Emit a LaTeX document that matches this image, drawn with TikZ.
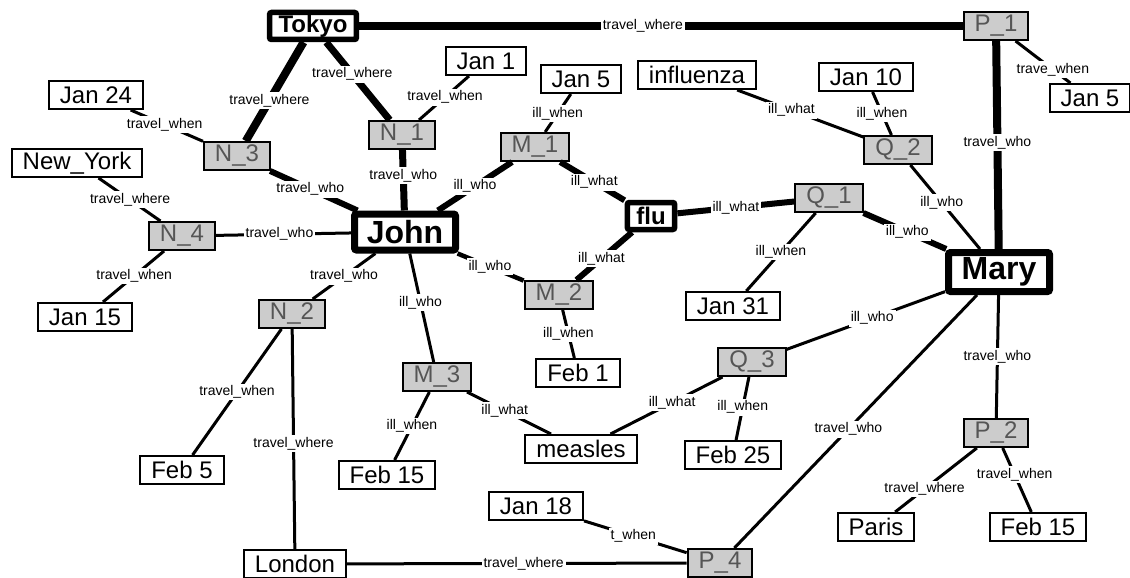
\documentclass[tikz,border=0pt]{standalone}
\usepackage{fontspec}
\setmainfont{Liberation Sans}
\usetikzlibrary{positioning}
\definecolor{eventgray}{HTML}{CCCCCC}
\definecolor{eventtext}{HTML}{555555}

\begin{document}
\begin{tikzpicture}[x=1pt, y=-1pt,
        val/.style={draw, line width=2pt, fill=white, font=\fontsize{24}{24}\selectfont, inner xsep=11pt, inner ysep=0pt, minimum height=28pt},
        evt/.style={val, fill=eventgray, text=eventtext},
        hub/.style={draw, line width=5.5pt, fill=white, rounded corners=2pt, font=\bfseries\fontsize{24}{24}\selectfont, inner xsep=9pt, inner ysep=0pt, minimum height=27pt},
        bighub/.style={hub, line width=7pt, font=\bfseries\fontsize{32}{32}\selectfont, minimum height=36pt, minimum width=101pt},
        lbl/.style={fill=white, inner sep=2pt, font=\fontsize{14}{14}\selectfont},
        link/.style={line width=3pt},
        heavy/.style={line width=7pt}
    ]
        \useasboundingbox (0,0) rectangle (1130,578);

        % people, places and illnesses
        \node (tokyo) [hub] at (313,26) {Tokyo};
        \node (john) [bighub] at (405,232) {John};
        \node (mary) [bighub, minimum height=39pt] at (999,272) {Mary};
        \node (flu) [hub] at (651,216) {flu};

        % event nodes
        \node (pone) [evt] at (996,26) {P\_1};
        \node (ptwo) [evt] at (996,433) {P\_2};
        \node (pfour) [evt] at (720,563) {P\_4};
        \node (qone) [evt] at (829,198) {Q\_1};
        \node (qtwo) [evt] at (898,150) {Q\_2};
        \node (qthree) [evt] at (752,362) {Q\_3};
        \node (mone) [evt] at (535,147) {M\_1};
        \node (mtwo) [evt] at (559,295) {M\_2};
        \node (mthree) [evt] at (437,377) {M\_3};
        \node (none) [evt] at (402,135) {N\_1};
        \node (ntwo) [evt] at (292,314) {N\_2};
        \node (nthree) [evt] at (237,156) {N\_3};
        \node (nfour) [evt] at (182,236) {N\_4};

        % values
        \node (janone) [val] at (486,61) {Jan 1};
        \node (janfivea) [val] at (581,79) {Jan 5};
        \node (influenza) [val] at (697,75) {influenza};
        \node (janten) [val] at (866,77) {Jan 10};
        \node (janfiveb) [val] at (1090,98) {Jan 5};
        \node (jantwentyfour) [val] at (96,95) {Jan 24};
        \node (newyork) [val] at (77,163) {New\_York};
        \node (janfifteen) [val] at (85,317) {Jan 15};
        \node (janthirtyone) [val] at (733,306) {Jan 31};
        \node (febone) [val] at (578,373) {Feb 1};
        \node (febfive) [val] at (182,470) {Feb 5};
        \node (febfifteena) [val] at (387,475) {Feb 15};
        \node (measles) [val] at (581,449) {measles};
        \node (febtwentyfive) [val] at (733,455) {Feb 25};
        \node (janeighteen) [val] at (536,506) {Jan 18};
        \node (paris) [val] at (876,527) {Paris};
        \node (febfifteenb) [val] at (1038,527) {Feb 15};
        \node (london) [val] at (295,564) {London};

        % heavy links
        \draw [heavy, line width=8pt] (tokyo) -- node[lbl, pos=0.47] {travel\_where} (pone);
        \draw [heavy, line width=8pt] (tokyo) -- node[lbl, pos=0.59] {travel\_where} (nthree);
        \draw [heavy] (tokyo) -- node[lbl, pos=0.41] {travel\_where} (none);
        \draw [heavy] (none) -- node[lbl, pos=0.42] {travel\_who} (john);
        \draw [heavy, line width=6pt] (nthree) -- node[lbl, pos=0.46] {travel\_who} (john);
        \draw [heavy, line width=6pt] (mone) -- node[lbl, pos=0.5] {ill\_who} (john);
        \draw [heavy, line width=6pt] (mone) -- node[lbl, pos=0.53] {ill\_what} (flu);
        \draw [heavy, line width=6pt] (flu) -- node[lbl, pos=0.55] {ill\_what} (mtwo);
        \draw [heavy, line width=6pt] (flu) -- node[lbl, pos=0.5] {ill\_what} (qone);
        \draw [heavy, line width=6pt] (qone) -- node[lbl, pos=0.53] {ill\_who} (mary);
        \draw [heavy, line width=8pt] (pone) -- node[lbl, pos=0.49] {travel\_who} (mary);
        \draw [link, line width=4.5pt] (john) -- node[lbl, pos=0.49] {ill\_who} (mtwo);

        % plain links
        \draw [link] (none) -- node[lbl, pos=0.52] {travel\_when} (janone);
        \draw [link] (nthree) -- node[lbl, pos=0.53] {travel\_when} (jantwentyfour);
        \draw [link] (mone) -- node[lbl, pos=0.49] {ill\_when} (janfivea);
        \draw [link] (newyork) -- node[lbl, pos=0.51] {travel\_where} (nfour);
        \draw [link] (nfour) -- node[lbl, pos=0.47] {travel\_who} (john);
        \draw [link] (nfour) -- node[lbl, pos=0.49] {travel\_when} (janfifteen);
        \draw [link] (john) -- node[lbl, pos=0.5] {travel\_who} (ntwo);
        \draw [link] (john) -- node[lbl, pos=0.45] {ill\_who} (mthree);
        \draw [link] (qone) -- node[lbl, pos=0.5] {ill\_when} (janthirtyone);
        \draw [link] (influenza) -- node[lbl, pos=0.43] {ill\_what} (qtwo);
        \draw [link] (janten) -- node[lbl, pos=0.5] {ill\_when} (qtwo);
        \draw [link] (qtwo) -- node[lbl, pos=0.45] {ill\_who} (mary);
        \draw [link] (pone) -- node[lbl, pos=0.68] {trave\_when} (janfiveb);
        \draw [link] (mtwo) -- node[lbl, pos=0.5] {ill\_when} (febone);
        \draw [link] (mary) -- node[lbl, pos=0.46] {ill\_who} (qthree);
        \draw [link] (mary) -- node[lbl, pos=0.53] {travel\_who} (pfour);
        \draw [link] (mary) -- node[lbl, pos=0.5] {travel\_who} (ptwo);
        \draw [link] (ntwo) -- node[lbl, pos=0.5] {travel\_when} (febfive);
        \draw [link] (ntwo) -- node[lbl, pos=0.52] {travel\_where} (london);
        \draw [link] (mthree) -- node[lbl, pos=0.5] {ill\_when} (febfifteena);
        \draw [link] (mthree) -- node[lbl, pos=0.45] {ill\_what} (measles);
        \draw [link] (qthree) -- node[lbl, pos=0.45] {ill\_what} (measles);
        \draw [link] (qthree) -- node[lbl, pos=0.48] {ill\_when} (febtwentyfive);
        \draw [link] (ptwo) -- node[lbl, pos=0.64] {travel\_where} (paris);
        \draw [link] (ptwo) -- node[lbl, pos=0.42] {travel\_when} (febfifteenb);
        \draw [link] (janeighteen) -- node[lbl, pos=0.48] {t\_when} (pfour);
        \draw [link] (london) -- node[lbl, pos=0.52] {travel\_where} (pfour);
    \end{tikzpicture}
\end{document}
